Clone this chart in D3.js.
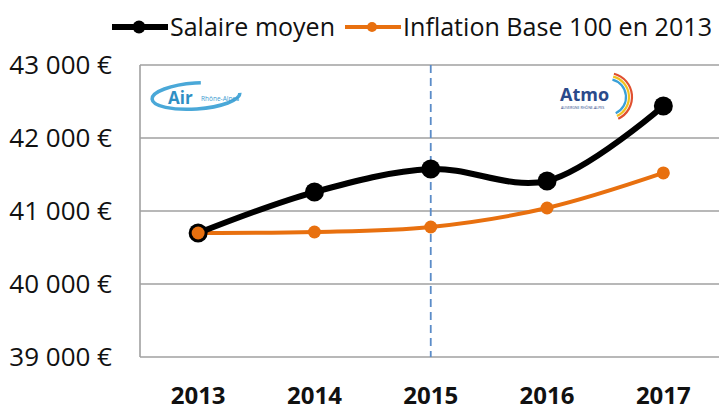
<!DOCTYPE html>
<html><head><meta charset="utf-8">
<script src="https://cdn.jsdelivr.net/npm/d3@7"></script>
<style>body{margin:0;background:#fff;}svg{display:block;font-family:"Open Sans","Noto Sans",sans-serif;}</style>
</head><body>
<svg id="c" width="719" height="412"></svg>
<script>
const years = ["2013","2014","2015","2016","2017"];
const salaire = [40699, 41260, 41575, 41411, 42438];
const inflation = [40699, 40712, 40781, 41041, 41521];
const yTicks = [39000, 40000, 41000, 42000, 43000];
const seriesNames = ["Salaire moyen", "Inflation Base 100 en 2013"];
const markedYear = "2015";

const svg = d3.select("#c");
const pLeft = 140, pRight = 721.5, pTop = 65, pBottom = 357;
const x = d3.scaleBand().domain(years).range([pLeft, pRight]);
const y = d3.scaleLinear().domain([39000, 43000]).range([pBottom, pTop]);
const cx = d => x(d) + x.bandwidth() / 2;

// gridlines
svg.append("g").selectAll("line").data(yTicks).join("line")
  .attr("x1", pLeft).attr("x2", 719).attr("y1", d => y(d)).attr("y2", d => y(d))
  .attr("stroke", "#a0a0a0").attr("stroke-width", 1.6);
svg.append("line").attr("x1", pLeft).attr("x2", pLeft).attr("y1", pTop).attr("y2", pBottom)
  .attr("stroke", "#a0a0a0").attr("stroke-width", 1.6);

// y axis labels
const fmt = v => d3.format(",")(v).replace(",", " ") + " €";
svg.append("g").selectAll("text").data(yTicks).join("text")
  .attr("x", 112).attr("y", d => y(d)).attr("dy", "0.36em")
  .attr("text-anchor", "end").attr("font-size", 26).attr("fill", "#111")
  .text(fmt);

// x axis labels
svg.append("g").selectAll("text").data(years).join("text")
  .attr("x", d => cx(d)).attr("y", 404)
  .attr("text-anchor", "middle").attr("font-size", 24).attr("font-weight", "bold").attr("fill", "#111")
  .text(d => d);

// dashed vertical line
svg.append("line").attr("x1", cx(markedYear)).attr("x2", cx(markedYear))
  .attr("y1", pTop).attr("y2", pBottom)
  .attr("stroke", "#5b8cc8").attr("stroke-width", 1.8).attr("stroke-dasharray", "8,5");

// logos (approximations)
const air = svg.append("g");
air.append("ellipse").attr("cx", 196).attr("cy", 96).attr("rx", 44).attr("ry", 13)
  .attr("fill", "none").attr("stroke", "#4aa8d8").attr("stroke-width", 3.5)
  .attr("stroke-dasharray", "150,200").attr("transform", "rotate(-4,196,96)");
air.append("text").attr("x", 168).attr("y", 104).attr("font-size", 17).attr("font-weight", "bold")
  .attr("fill", "#2f8fc4").text("Air");
air.append("text").attr("x", 201).attr("y", 101).attr("font-size", 6.5).attr("fill", "#3a9bd0").text("Rhône-Alpes");

const atmo = svg.append("g");
atmo.append("text").attr("x", 560).attr("y", 101).attr("font-size", 18).attr("font-weight", "bold")
  .attr("fill", "#2a4a8a").text("Atmo");
atmo.append("text").attr("x", 561).attr("y", 109).attr("font-size", 3.6).attr("fill", "#2a4a8a").text("AUVERGNE RHÔNE-ALPES");
[["#3aa0d8", 18], ["#f0c020", 21], ["#e05030", 24]].forEach(([c, r]) => {
  const arc = d3.arc().innerRadius(r - 1.1).outerRadius(r + 1.1).startAngle(0.25).endAngle(2.7);
  atmo.append("path").attr("d", arc()).attr("transform", "translate(608,97)").attr("fill", c);
});

// lines
const line = d3.line().x(d => cx(d.year)).y(d => y(d.v)).curve(d3.curveCatmullRom.alpha(0.5));
const sData = years.map((yr, i) => ({ year: yr, v: salaire[i] }));
const iData = years.map((yr, i) => ({ year: yr, v: inflation[i] }));

svg.append("path").attr("d", line(iData)).attr("fill", "none").attr("stroke", "#e8700f").attr("stroke-width", 4);
svg.append("path").attr("d", line(sData)).attr("fill", "none").attr("stroke", "#000").attr("stroke-width", 6);
svg.append("g").selectAll("circle").data(sData).join("circle")
  .attr("cx", d => cx(d.year)).attr("cy", d => y(d.v)).attr("r", 9.5).attr("fill", "#000");
svg.append("g").selectAll("circle").data(iData).join("circle")
  .attr("cx", d => cx(d.year)).attr("cy", d => y(d.v)).attr("r", 6.5).attr("fill", "#e8700f");

// legend
const lg = svg.append("g");
lg.append("line").attr("x1", 112).attr("x2", 168).attr("y1", 27).attr("y2", 27).attr("stroke", "#000").attr("stroke-width", 6);
lg.append("circle").attr("cx", 139).attr("cy", 27).attr("r", 6.5).attr("fill", "#000");
lg.append("text").attr("x", 170).attr("y", 27).attr("dy", "0.36em").attr("font-size", 25).attr("fill", "#111")
  .attr("textLength", 165).attr("lengthAdjust", "spacingAndGlyphs").text(seriesNames[0]);
lg.append("line").attr("x1", 345).attr("x2", 401).attr("y1", 27).attr("y2", 27).attr("stroke", "#e8700f").attr("stroke-width", 4);
lg.append("circle").attr("cx", 372).attr("cy", 27).attr("r", 5).attr("fill", "#e8700f");
lg.append("text").attr("x", 403).attr("y", 27).attr("dy", "0.36em").attr("font-size", 25).attr("fill", "#111")
  .attr("textLength", 309).attr("lengthAdjust", "spacingAndGlyphs").text(seriesNames[1]);
</script>
</body></html>
